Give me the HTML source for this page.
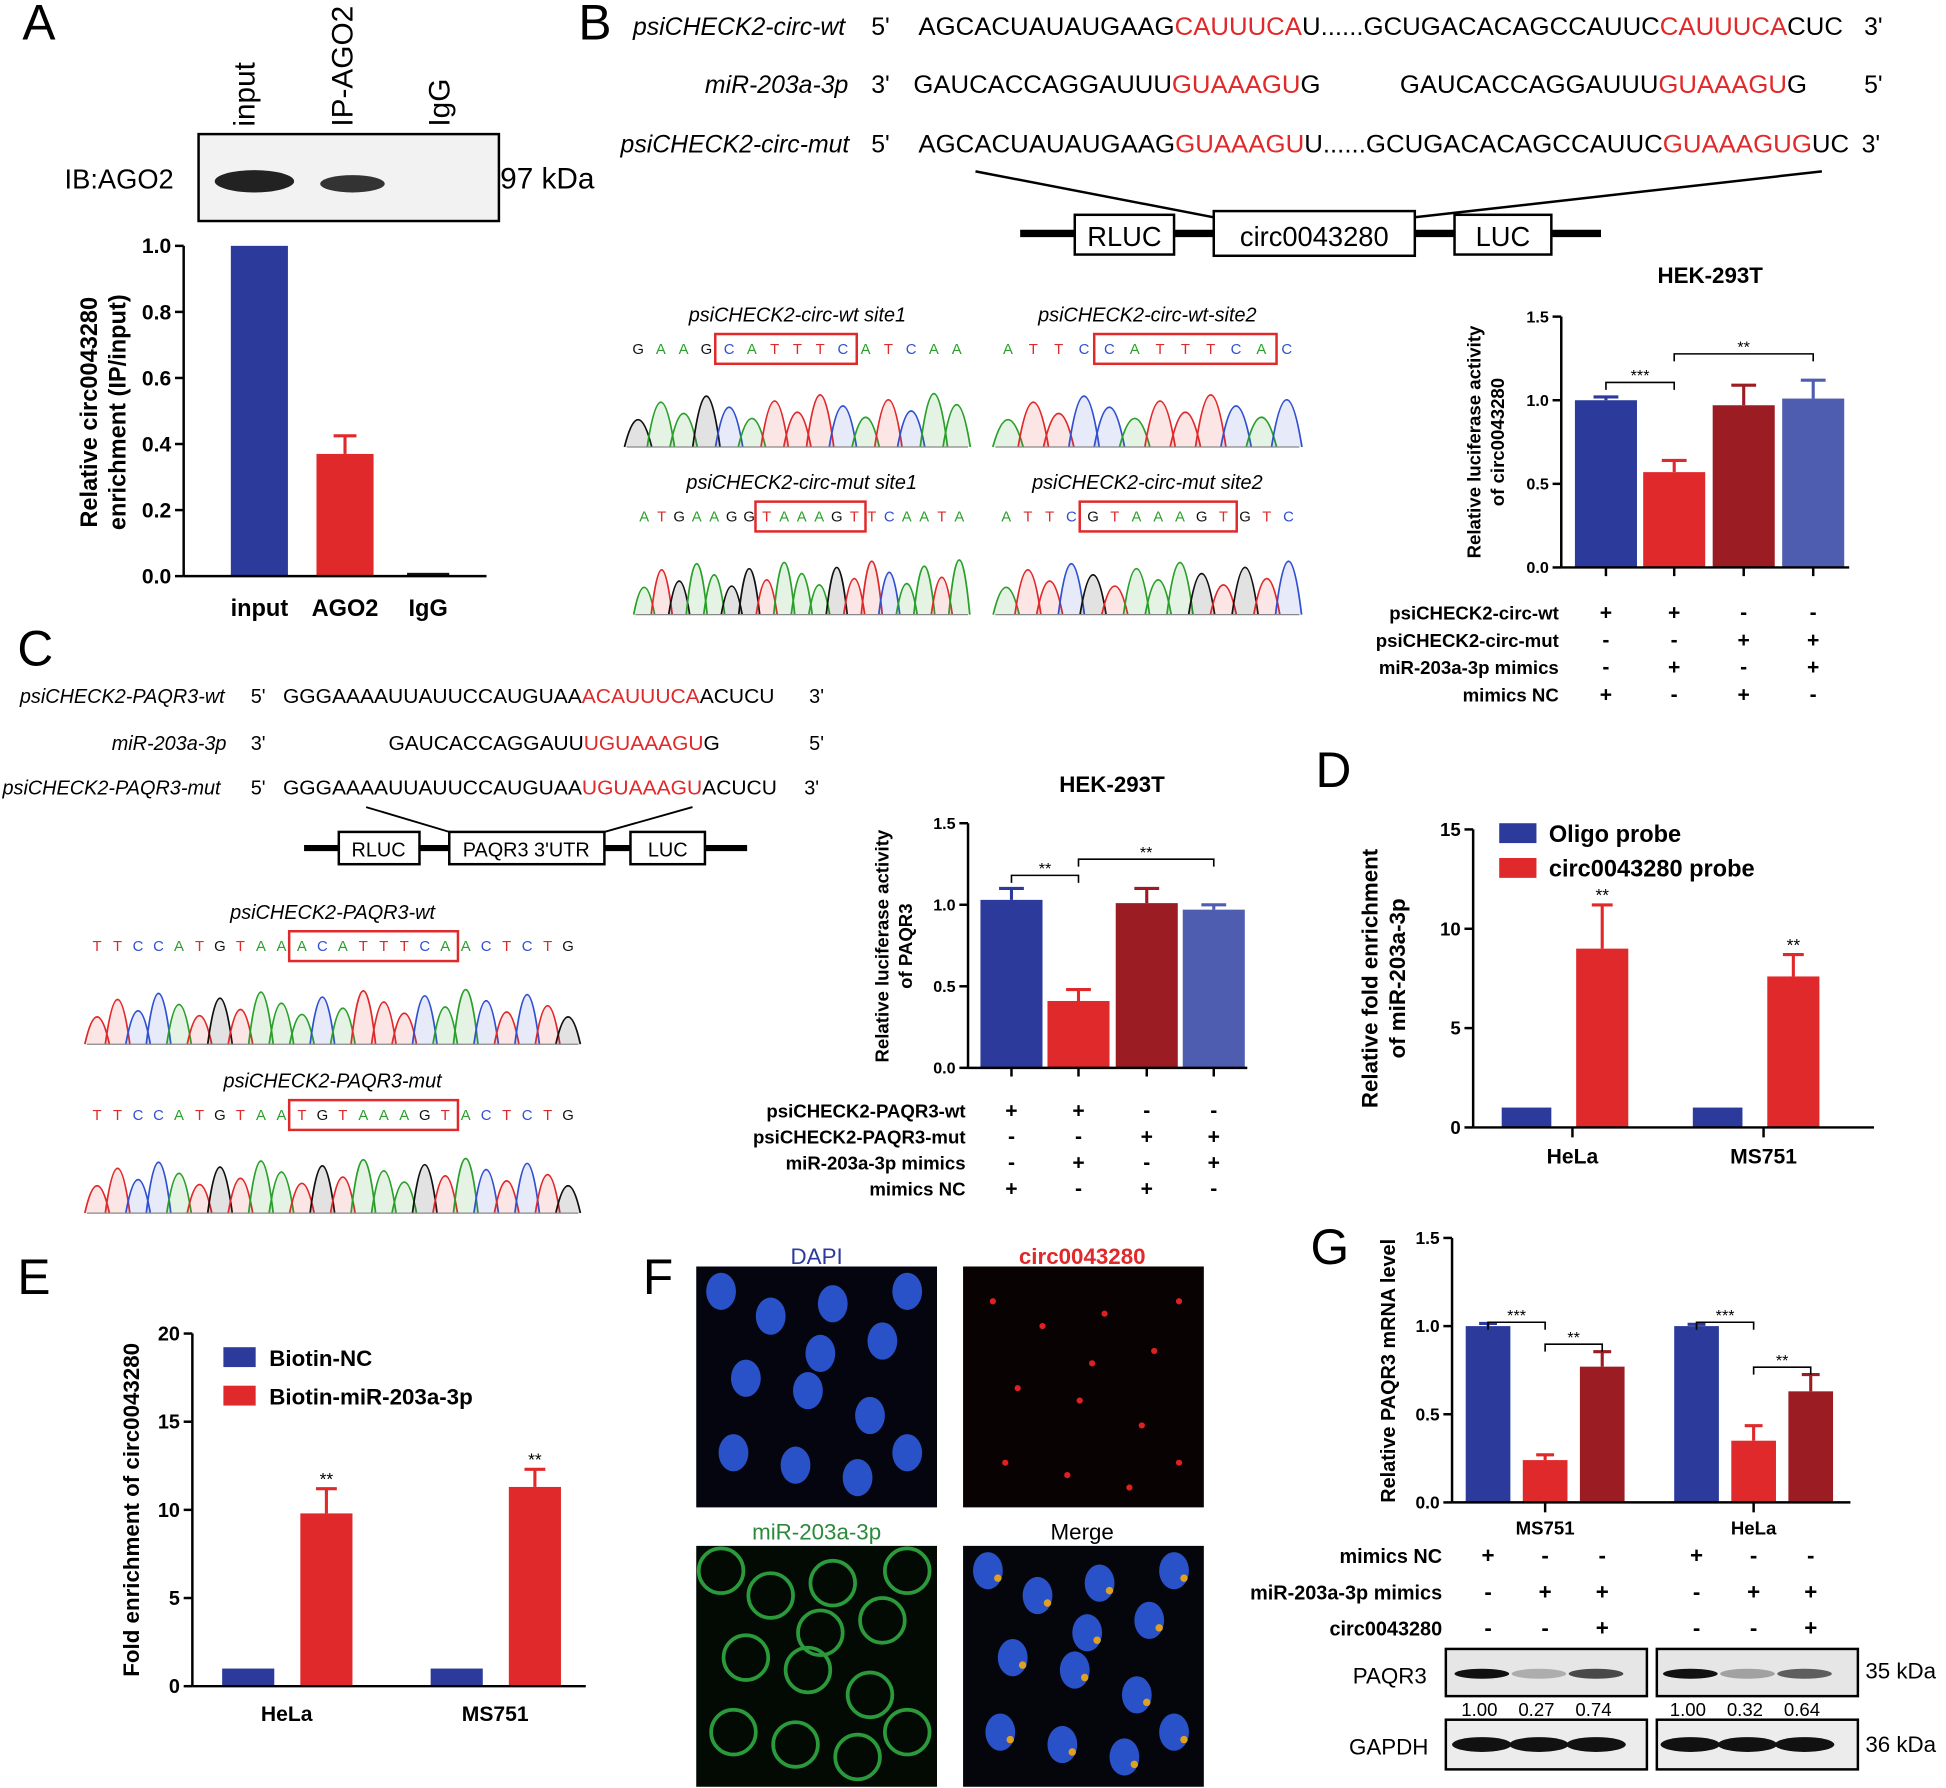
<!DOCTYPE html>
<html><head><meta charset="utf-8"><style>
html,body{margin:0;padding:0;background:#fff}
svg{display:block;font-family:"Liberation Sans",Arial,sans-serif}
.b{font-weight:bold}
</style></head><body>
<svg id="fig" width="1946" height="1788" viewBox="0 0 1568 1440" preserveAspectRatio="none" xmlns="http://www.w3.org/2000/svg">
<g id="static">
<text x="18" y="32" font-size="40">A</text>
<text x="466" y="32" font-size="40">B</text>
<text x="14" y="536" font-size="40">C</text>
<text x="1060" y="634" font-size="40">D</text>
<text x="14" y="1042" font-size="40">E</text>
<text x="518" y="1042" font-size="40">F</text>
<text x="1056" y="1018" font-size="40">G</text>

<g>
<text x="205" y="102" font-size="24" transform="rotate(-90 205 102)">input</text>
<text x="284" y="102" font-size="24" transform="rotate(-90 284 102)">IP-AGO2</text>
<text x="362" y="102" font-size="24" transform="rotate(-90 362 102)">IgG</text>
<rect x="160" y="108" width="242" height="70" fill="#f2f2f2" stroke="#000" stroke-width="2"/>
<ellipse cx="205" cy="146" rx="32" ry="9" fill="#222"/>
<ellipse cx="284" cy="148" rx="26" ry="7" fill="#333"/>
<text x="52" y="152" font-size="22">IB:AGO2</text>
<text x="403" y="152" font-size="24">97 kDa</text>
</g>

<g font-size="20">
<text x="510" y="28" font-style="italic">psiCHECK2-circ-wt</text><text x="702" y="28">5'</text>
<text x="740" y="28" textLength="745" lengthAdjust="spacingAndGlyphs">AGCACUAUAUGAAG<tspan fill="#e0292a">CAUUUCA</tspan>U......GCUGACACAGCCAUUC<tspan fill="#e0292a">CAUUUCA</tspan>CUC</text><text x="1502" y="28">3'</text>
<text x="568" y="75" font-style="italic">miR-203a-3p</text><text x="702" y="75">3'</text>
<text x="736" y="75" textLength="328" lengthAdjust="spacingAndGlyphs">GAUCACCAGGAUUU<tspan fill="#e0292a">GUAAAGU</tspan>G</text>
<text x="1128" y="75" textLength="328" lengthAdjust="spacingAndGlyphs">GAUCACCAGGAUUU<tspan fill="#e0292a">GUAAAGU</tspan>G</text><text x="1502" y="75">5'</text>
<text x="500" y="123" font-style="italic">psiCHECK2-circ-mut</text><text x="702" y="123">5'</text>
<text x="740" y="123" textLength="750" lengthAdjust="spacingAndGlyphs">AGCACUAUAUGAAG<tspan fill="#e0292a">GUAAAGU</tspan>U......GCUGACACAGCCAUUC<tspan fill="#e0292a">GUAAAGUG</tspan>UC</text><text x="1500" y="123">3'</text>
</g>
<g>
<line x1="786" y1="138" x2="978" y2="175" stroke="#000" stroke-width="2"/>
<line x1="1468" y1="138" x2="1140" y2="175" stroke="#000" stroke-width="2"/>
<line x1="822" y1="188" x2="1290" y2="188" stroke="#000" stroke-width="6"/>
<rect x="866" y="173" width="80" height="32" fill="#fff" stroke="#000" stroke-width="2"/><text x="906" y="198" font-size="22" text-anchor="middle">RLUC</text>
<rect x="978" y="170" width="162" height="36" fill="#fff" stroke="#000" stroke-width="2"/><text x="1059" y="198" font-size="22" text-anchor="middle">circ0043280</text>
<rect x="1172" y="173" width="78" height="32" fill="#fff" stroke="#000" stroke-width="2"/><text x="1211" y="198" font-size="22" text-anchor="middle">LUC</text>
</g>
<g font-size="16">
<text x="16" y="566" font-style="italic">psiCHECK2-PAQR3-wt</text><text x="202" y="566">5'</text>
<text x="228" y="566" textLength="396" lengthAdjust="spacingAndGlyphs">GGGAAAAUUAUUCCAUGUAA<tspan fill="#e0292a">ACAUUUCA</tspan>ACUCU</text><text x="652" y="566">3'</text>
<text x="90" y="604" font-style="italic">miR-203a-3p</text><text x="202" y="604">3'</text>
<text x="313" y="604" textLength="267" lengthAdjust="spacingAndGlyphs">GAUCACCAGGAUU<tspan fill="#e0292a">UGUAAAGU</tspan>G</text><text x="652" y="604">5'</text>
<text x="2" y="640" font-style="italic">psiCHECK2-PAQR3-mut</text><text x="202" y="640">5'</text>
<text x="228" y="640" textLength="398" lengthAdjust="spacingAndGlyphs">GGGAAAAUUAUUCCAUGUAA<tspan fill="#e0292a">UGUAAAGU</tspan>ACUCU</text><text x="648" y="640">3'</text>
<line x1="295" y1="650" x2="362" y2="670" stroke="#000" stroke-width="1.5"/>
<line x1="558" y1="650" x2="487" y2="670" stroke="#000" stroke-width="1.5"/>
<line x1="245" y1="683" x2="602" y2="683" stroke="#000" stroke-width="5"/>
<rect x="273" y="670" width="65" height="26" fill="#fff" stroke="#000" stroke-width="2"/><text x="305" y="690" text-anchor="middle">RLUC</text>
<rect x="362" y="670" width="125" height="26" fill="#fff" stroke="#000" stroke-width="2"/><text x="424" y="690" text-anchor="middle">PAQR3 3'UTR</text>
<rect x="508" y="670" width="60" height="26" fill="#fff" stroke="#000" stroke-width="2"/><text x="538" y="690" text-anchor="middle">LUC</text>
</g>

<g font-size="18">
<text x="658" y="1018" text-anchor="middle" fill="#2b3a9b">DAPI</text>
<text x="872" y="1018" text-anchor="middle" fill="#e0292a" class="b">circ0043280</text>
<text x="658" y="1240" text-anchor="middle" fill="#2a8a3a">miR-203a-3p</text>
<text x="872" y="1240" text-anchor="middle">Merge</text>
<rect x="561" y="1020" width="194" height="194" fill="#050510"/>
<rect x="776" y="1020" width="194" height="194" fill="#080202"/>
<rect x="561" y="1245" width="194" height="194" fill="#030a04"/>
<rect x="776" y="1245" width="194" height="194" fill="#05050c"/>
<g id="cells"></g>
</g>
</g>
<g id="dyn"></g>
</svg>
<script>
// ===== DATA =====
const aCats=["input","AGO2","IgG"];
const aVals=[1.0,0.37,0.01];
const aErr=[0,0.055,0];
const aTicks=["0.0","0.2","0.4","0.6","0.8","1.0"];

const bVals=[1.0,0.57,0.97,1.01];
const bErr=[0.02,0.07,0.12,0.11];
const bTicks=["0.0","0.5","1.0","1.5"];
const bRows=["psiCHECK2-circ-wt","psiCHECK2-circ-mut","miR-203a-3p mimics","mimics NC"];
const bSigns=[["+","+","-","-"],["-","-","+","+"],["-","+","-","+"],["+","-","+","-"]];

const cVals=[1.03,0.41,1.01,0.97];
const cErr=[0.07,0.07,0.09,0.03];
const cTicks=["0.0","0.5","1.0","1.5"];
const cRows=["psiCHECK2-PAQR3-wt","psiCHECK2-PAQR3-mut","miR-203a-3p mimics","mimics NC"];
const cSigns=[["+","+","-","-"],["-","-","+","+"],["-","+","-","+"],["+","-","+","-"]];

const dCats=["HeLa","MS751"];
const dOligo=[1,1];
const dCirc=[9.0,7.6];
const dCircErr=[2.2,1.1];
const dTicks=["0","5","10","15"];

const eCats=["HeLa","MS751"];
const eNC=[1,1];
const eMiR=[9.8,11.3];
const eMiRErr=[1.4,1.0];
const eTicks=["0","5","10","15","20"];

const gCats=["MS751","HeLa"];
const gVals=[[1.0,0.24,0.77],[1.0,0.35,0.63]];
const gErr=[[0.015,0.03,0.085],[0.01,0.085,0.095]];
const gTicks=["0.0","0.5","1.0","1.5"];
const gRows=["mimics NC","miR-203a-3p mimics","circ0043280"];
const gSigns=[["+","-","-"],["-","+","+"],["-","-","+"]];
const gBlot=[["1.00","0.27","0.74"],["1.00","0.32","0.64"]];

const BLUE="#2b3a9b",RED="#e0292a",DRED="#9b1c23",LBLUE="#4f5db0";
const NS="http://www.w3.org/2000/svg";
const dyn=document.getElementById('dyn');
function el(tag,attrs,parent,txt){const e=document.createElementNS(NS,tag);for(const k in attrs)e.setAttribute(k,attrs[k]);if(txt!==undefined)e.textContent=txt;(parent||dyn).appendChild(e);return e;}
function scale(d0,d1,r0,r1){return v=>r0+(v-d0)/(d1-d0)*(r1-r0);}
function axisY(g,x,y,ticks,maxv,fs){
  const l=el('line',{x1:x,y1:y(0),x2:x,y2:y(maxv),stroke:'#000','stroke-width':2},g);
  
  
  ticks.forEach(t=>{const v=parseFloat(t);
    el('line',{x1:x-7,y1:y(v),x2:x,y2:y(v),stroke:'#000','stroke-width':2},g);
    const tx=el('text',{x:x-10,y:y(v)+fs*0.35,'font-size':fs,'text-anchor':'end','font-weight':'bold'},g,t);
    
    });
}
function bar(g,cx,w,y,v,err,col){
  const r=el('rect',{x:cx-w/2,y:y(v),width:w,height:y(0)-y(v),fill:col},g);
  
  
  if(err>0){el('line',{x1:cx,y1:y(v),x2:cx,y2:y(v+err),stroke:col,'stroke-width':2.5},g);
    el('line',{x1:cx-w*0.2,y1:y(v+err),x2:cx+w*0.2,y2:y(v+err),stroke:col,'stroke-width':2.5},g);}
}
function brk(g,x1,x2,yy,s){el('path',{d:`M${x1} ${yy+6}V${yy}H${x2}V${yy+6}`,fill:'none',stroke:'#000','stroke-width':1.3},g);
  el('text',{x:(x1+x2)/2,y:yy-1,'font-size':13,'text-anchor':'middle'},g,s);}
function ylab(g,x,y,lines,fs){lines.forEach((t,i)=>{const tx=el('text',{x:x+i*(fs+4),y:y,'font-size':fs,'font-weight':'bold','text-anchor':'middle',transform:`rotate(-90 ${x+i*(fs+4)} ${y})`},g,t);
  
  });}
function table(g,rows,signs,xs,lx,y0,dy,fs){rows.forEach((r,i)=>{el('text',{x:lx,y:y0+i*dy,'font-size':fs,'font-weight':'bold','text-anchor':'end'},g,r);
  signs[i].forEach((s,j)=>el('text',{x:xs[j],y:y0+i*dy,'font-size':fs+2,'font-weight':'bold','text-anchor':'middle'},g,s));});}

// A
{const g=el('g',{});  
 const y=scale(0,1,464,198); const xs=[209,278,345],ws=[46,46,34],cols=[BLUE,RED,"#111"];
 aCats.forEach((c,i)=>{bar(g,xs[i],ws[i],y,aVals[i],aErr[i],cols[i]);
   const t=el('text',{x:xs[i],y:496,'font-size':19,'font-weight':'bold','text-anchor':'middle'},g,c);
   
   });
 axisY(g,148,y,aTicks,1.0,17);
 el('line',{x1:148,y1:464,x2:392,y2:464,stroke:'#000','stroke-width':2},g);
 ylab(g,78,332,["Relative circ0043280","enrichment (IP/input)"],19);}

// B
{const g=el('g',{});  
 const y=scale(0,1.5,457,255); const xs=[1294,1349,1405,1461],cols=[BLUE,RED,DRED,LBLUE];
 el('text',{x:1378,y:228,'font-size':18,'font-weight':'bold','text-anchor':'middle'},g,"HEK-293T");
 bVals.forEach((v,i)=>{bar(g,xs[i],50,y,v,bErr[i],cols[i]);el('line',{x1:xs[i],y1:457,x2:xs[i],y2:464,stroke:'#000','stroke-width':2},g);});
 axisY(g,1258,y,bTicks,1.5,13);
 el('line',{x1:1258,y1:457,x2:1490,y2:457,stroke:'#000','stroke-width':2},g);
 brk(g,1294,1349,308,"***"); brk(g,1349,1461,285,"**");
 ylab(g,1193,356,["Relative luciferase activity","of circ0043280"],15);
 table(g,bRows,bSigns,xs,1256,499,22,15);}

// C
{const g=el('g',{});  
 const y=scale(0,1.5,860,663); const xs=[815,869,924,978],cols=[BLUE,RED,DRED,LBLUE];
 el('text',{x:896,y:638,'font-size':18,'font-weight':'bold','text-anchor':'middle'},g,"HEK-293T");
 cVals.forEach((v,i)=>{bar(g,xs[i],50,y,v,cErr[i],cols[i]);el('line',{x1:xs[i],y1:860,x2:xs[i],y2:867,stroke:'#000','stroke-width':2},g);});
 axisY(g,780,y,cTicks,1.5,13);
 el('line',{x1:780,y1:860,x2:1005,y2:860,stroke:'#000','stroke-width':2},g);
 brk(g,815,869,705,"**"); brk(g,869,978,692,"**");
 ylab(g,716,762,["Relative luciferase activity","of PAQR3"],15);
 table(g,cRows,cSigns,xs,778,900,21,15);}

// D
{const g=el('g',{});  
 const y=scale(0,15,908,668); const cx=[1267,1421];
 dCats.forEach((c,i)=>{bar(g,cx[i]-37,40,y,dOligo[i],0,BLUE);bar(g,cx[i]+24,42,y,dCirc[i],dCircErr[i],RED);
  el('text',{x:cx[i]+24,y:y(dCirc[i]+dCircErr[i])-3,'font-size':14,'text-anchor':'middle'},g,"**");
  el('line',{x1:cx[i],y1:908,x2:cx[i],y2:916,stroke:'#000','stroke-width':2},g);
  el('text',{x:cx[i],y:937,'font-size':17,'font-weight':'bold','text-anchor':'middle'},g,c);});
 axisY(g,1187,y,dTicks,15,15);
 el('line',{x1:1187,y1:908,x2:1510,y2:908,stroke:'#000','stroke-width':2},g);
 ylab(g,1110,788,["Relative fold enrichment","of miR-203a-3p"],18);
 el('rect',{x:1208,y:663,width:30,height:16,fill:BLUE},g);el('text',{x:1248,y:678,'font-size':19,'font-weight':'bold'},g,"Oligo probe");
 el('rect',{x:1208,y:691,width:30,height:16,fill:RED},g);el('text',{x:1248,y:706,'font-size':19,'font-weight':'bold'},g,"circ0043280 probe");}

// E
{const g=el('g',{});  
 const y=scale(0,20,1358,1074); const cx=[231,399];
 eCats.forEach((c,i)=>{bar(g,cx[i]-31,42,y,eNC[i],0,BLUE);bar(g,cx[i]+32,42,y,eMiR[i],eMiRErr[i],RED);
  el('text',{x:cx[i]+32,y:y(eMiR[i]+eMiRErr[i])-3,'font-size':14,'text-anchor':'middle'},g,"**");
  el('text',{x:cx[i],y:1386,'font-size':17,'font-weight':'bold','text-anchor':'middle'},g,c);});
 axisY(g,155,y,eTicks,20,16);
 el('line',{x1:155,y1:1358,x2:472,y2:1358,stroke:'#000','stroke-width':2},g);
 ylab(g,112,1216,["Fold enrichment of circ0043280"],18);
 el('rect',{x:180,y:1085,width:26,height:16,fill:BLUE},g);el('text',{x:217,y:1100,'font-size':18,'font-weight':'bold'},g,"Biotin-NC");
 el('rect',{x:180,y:1116,width:26,height:16,fill:RED},g);el('text',{x:217,y:1131,'font-size':18,'font-weight':'bold'},g,"Biotin-miR-203a-3p");}

// G
{const g=el('g',{});  
 const y=scale(0,1.5,1210,997); const gx=[[1199,1245,1291],[1367,1413,1459]],cols=[BLUE,RED,DRED];
 gCats.forEach((c,k)=>{gVals[k].forEach((v,i)=>bar(g,gx[k][i],36,y,v,gErr[k][i],cols[i]));
  const cx=gx[k][1];el('line',{x1:cx,y1:1210,x2:cx,y2:1218,stroke:'#000','stroke-width':2},g);
  el('text',{x:cx,y:1236,'font-size':15,'font-weight':'bold','text-anchor':'middle'},g,c);
  brk(g,gx[k][0],gx[k][1],y(1.05)+4,"***"); brk(g,gx[k][1],gx[k][2],y(gVals[k][2]+gErr[k][2])-6,"**");});
 axisY(g,1170,y,gTicks,1.5,14);
 el('line',{x1:1170,y1:1210,x2:1491,y2:1210,stroke:'#000','stroke-width':2},g);
 ylab(g,1124,1104,["Relative PAQR3 mRNA level"],16);
 table(g,gRows,gSigns,gx[0],1162,1259,29,16);
 table(g,gRows.map(()=>""),gSigns,gx[1],1162,1259,29,16);
 [[1165,1327],[1335,1497]].forEach((b,k)=>{
  el('rect',{x:b[0],y:1328,width:b[1]-b[0],height:38,fill:'#e6e6e6',stroke:'#000','stroke-width':2},g);
  el('rect',{x:b[0],y:1385,width:b[1]-b[0],height:40,fill:'#ececec',stroke:'#000','stroke-width':2},g);
  gx[k].forEach((x,i)=>{const a=parseFloat(gBlot[k][i]);
   el('ellipse',{cx:x-5,cy:1348,rx:22,ry:4,fill:'#111',opacity:Math.max(0.15,a)},g);
   el('ellipse',{cx:x-5,cy:1405,rx:24,ry:6,fill:'#111'},g);
   el('text',{x:x-7,y:1382,'font-size':15,'text-anchor':'middle'},g,gBlot[k][i]);});});
 el('text',{x:1090,y:1356,'font-size':18},g,"PAQR3");
 el('text',{x:1087,y:1413,'font-size':18},g,"GAPDH");
 el('text',{x:1503,y:1352,'font-size':18},g,"35 kDa");
 el('text',{x:1503,y:1411,'font-size':18},g,"36 kDa");}

// Sequencing traces (decorative)
const traces=[
 {x:505,y:247,w:275,t:"psiCHECK2-circ-wt site1",seq:"GAAGCATTTCATCAA",box:[4,10]},
 {x:802,y:247,w:245,t:"psiCHECK2-circ-wt-site2",seq:"ATTCCATTTCAC",box:[4,11]},
 {x:512,y:382,w:268,t:"psiCHECK2-circ-mut site1",seq:"ATGAAGGTAAAGTTCAATA",box:[7,13]},
 {x:802,y:382,w:245,t:"psiCHECK2-circ-mut site2",seq:"ATTCGTAAAGTGTC",box:[4,11]},
 {x:70,y:728,w:396,t:"psiCHECK2-PAQR3-wt",seq:"TTCCATGTAAACATTTCAACTCTG",box:[10,18]},
 {x:70,y:864,w:396,t:"psiCHECK2-PAQR3-mut",seq:"TTCCATGTAATGTAAAGTACTCTG",box:[10,18]}];
const bc={A:"#2aa02a",T:"#e0292a",C:"#3050d0",G:"#111"};
traces.forEach(tr=>{const g=el('g',{});
 
 
 el('text',{x:tr.x+tr.w/2,y:tr.y+12,'font-size':16,'font-style':'italic','text-anchor':'middle'},g,tr.t);
 const n=tr.seq.length,dx=tr.w/n;
 [...tr.seq].forEach((b,i)=>el('text',{x:tr.x+dx*(i+0.5),y:tr.y+38,'font-size':12,fill:bc[b],'text-anchor':'middle'},g,b));
 el('rect',{x:tr.x+dx*tr.box[0]-2,y:tr.y+22,width:dx*(tr.box[1]-tr.box[0])+4,height:24,fill:'none',stroke:'#e0292a','stroke-width':2},g);
 const base=tr.y+113;
 [...tr.seq].forEach((b,i)=>{const cx=tr.x+dx*(i+0.5),h=22+((i*37)%23);
  el('path',{d:`M${cx-dx*0.6} ${base}Q${cx} ${base-h*2} ${cx+dx*0.6} ${base}`,fill:bc[b],'fill-opacity':0.12,stroke:bc[b],'stroke-width':1.4},g);});
 el('line',{x1:tr.x,y1:base,x2:tr.x+tr.w,y2:base,stroke:'#888','stroke-width':1},g);});

// Cells (decorative)
const cg=document.getElementById('cells');
const cellPts=[[20,20],[60,40],[110,30],[150,60],[40,90],[90,100],[140,120],[30,150],[80,160],[130,170],[170,150],[100,70],[170,20]];
cellPts.forEach(p=>{
 el('ellipse',{cx:561+p[0],cy:1020+p[1],rx:12,ry:15,fill:'#2a52c8'},cg);
 el('circle',{cx:776+p[0]+4,cy:1020+p[1]+8,r:2.5,fill:'#e02020'},cg);
 el('ellipse',{cx:561+p[0],cy:1245+p[1],rx:18,ry:18,fill:'none',stroke:'#2a9a3a','stroke-width':3},cg);
 el('ellipse',{cx:776+p[0],cy:1245+p[1],rx:12,ry:15,fill:'#2a52c8'},cg);
 el('circle',{cx:776+p[0]+8,cy:1245+p[1]+6,r:3,fill:'#e0a020'},cg);});
</script>
</body></html>
